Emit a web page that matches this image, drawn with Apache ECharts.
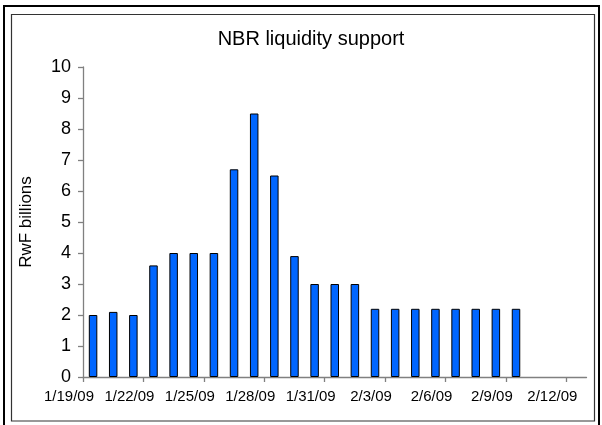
<!DOCTYPE html>
<html>
<head>
<meta charset="utf-8">
<title>NBR liquidity support</title>
<script src="https://cdn.jsdelivr.net/npm/echarts@6/dist/echarts.min.js"></script>
<style>
  html, body { margin: 0; padding: 0; background: #fff; }
  #chart { width: 602px; height: 425px; }
</style>
</head>
<body>
<div id="chart"></div>
<script>
// daily liquidity support, RwF billions
const dates = [
  '1/19/09', '1/20/09', '1/21/09', '1/22/09', '1/23/09', '1/24/09', '1/25/09',
  '1/26/09', '1/27/09', '1/28/09', '1/29/09', '1/30/09', '1/31/09', '2/1/09',
  '2/2/09', '2/3/09', '2/4/09', '2/5/09', '2/6/09', '2/7/09', '2/8/09', '2/9/09'
]
const support = [
  2.0, 2.1, 2.0, 3.6, 4.0, 4.0, 4.0,
  6.7, 8.5, 6.5, 3.9, 3.0, 3.0, 3.0,
  2.2, 2.2, 2.2, 2.2, 2.2, 2.2, 2.2, 2.2
]
const tickLabels = ['1/19/09', '1/22/09', '1/25/09', '1/28/09', '1/31/09', '2/3/09', '2/6/09', '2/9/09', '2/12/09']
const axisEnd = '2/13/09'

const font = 'Liberation Sans, Arial, sans-serif'

// days since the first date
function dayOf(s) {
  const [m, d, y] = s.split('/').map(Number)
  return Date.UTC(2000 + y, m - 1, d) / 86400000
}
const day0 = dayOf(dates[0])
const toX = s => dayOf(s) - day0

const tickDays = tickLabels.map(toX)
const labelByDay = {}
tickLabels.forEach(s => { labelByDay[toX(s)] = s })

const chart = echarts.init(document.getElementById('chart'))
chart.setOption({
  animation: false,
  textStyle: {fontFamily: font},
  title: {
    text: 'NBR liquidity support',
    left: 306,
    textAlign: 'center',
    top: 24,
    textStyle: {fontSize: 20, fontWeight: 'normal', color: '#000', fontFamily: font}
  },
  graphic: [
    {
      type: 'rect',
      shape: {x: 4, y: 6, width: 595, height: 430},
      style: {fill: 'none', stroke: '#000', lineWidth: 2}
    },
    {
      type: 'rect',
      shape: {x: 11.5, y: 14.5, width: 583, height: 406.5},
      style: {fill: 'none', stroke: '#333', lineWidth: 1.2}
    }
  ],
  grid: {left: 83, right: 15.5, top: 67, bottom: 48},
  xAxis: {
    type: 'value',
    min: 0,
    max: toX(axisEnd),
    splitLine: {show: false},
    axisLine: {lineStyle: {color: '#808080', width: 1.3}},
    axisTick: {
      customValues: tickDays,
      length: 5,
      inside: false,
      lineStyle: {color: '#808080', width: 1.3}
    },
    axisLabel: {
      customValues: tickDays,
      formatter: v => labelByDay[v] || '',
      fontSize: 15,
      color: '#000',
      margin: 12,
      padding: [0, 28, 0, 0]
    }
  },
  yAxis: {
    type: 'value',
    min: 0,
    max: 10,
    interval: 1,
    name: 'RwF billions',
    nameLocation: 'middle',
    nameRotate: 90,
    nameGap: 48,
    nameTextStyle: {fontSize: 17, color: '#000'},
    splitLine: {show: false},
    axisLine: {show: true, lineStyle: {color: '#808080', width: 1.3}},
    axisTick: {show: true, length: 5, lineStyle: {color: '#808080', width: 1.3}},
    axisLabel: {fontSize: 18, color: '#000', margin: 12}
  },
  series: [{
    type: 'bar',
    barWidth: 8.5,
    itemStyle: {color: '#0066ff', borderColor: '#000', borderWidth: 1},
    data: dates.map((s, i) => [toX(s) + 0.5, support[i]])
  }]
})
</script>
</body>
</html>
